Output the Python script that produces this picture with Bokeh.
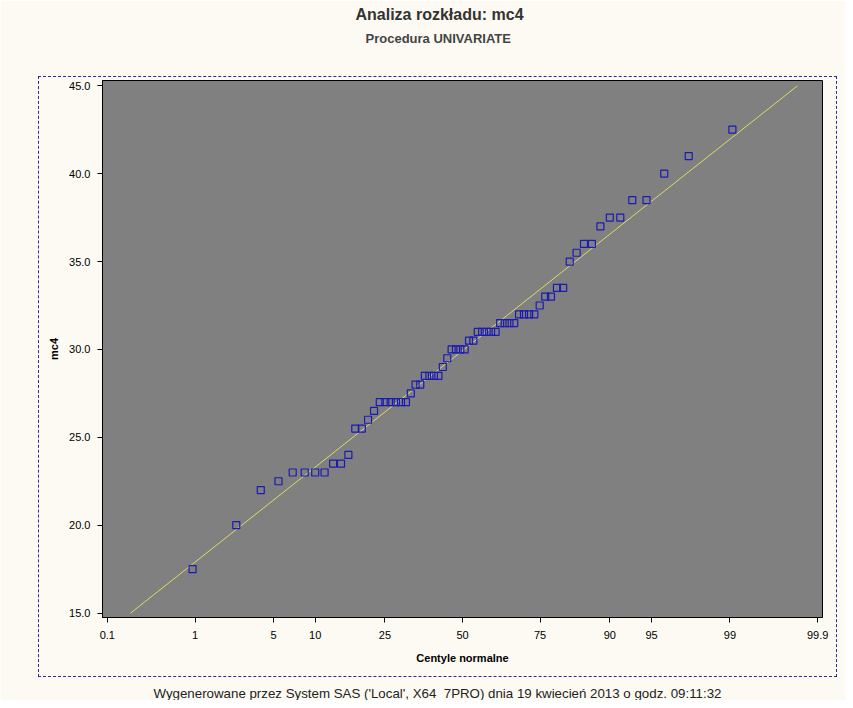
from statistics import NormalDist
from bokeh.plotting import figure
from bokeh.models import Title, Range1d, FixedTicker, ColumnDataSource, InlineStyleSheet
from bokeh.embed import file_html
from bokeh.resources import INLINE

# ---- data ----
mc4 = [17.5, 20.0, 22.0, 22.5,
       23.0, 23.0, 23.0, 23.0, 23.5, 23.5, 24.0,
       25.5, 25.5, 26.0, 26.5,
       27.0, 27.0, 27.0, 27.0, 27.0, 27.0, 27.5, 28.0, 28.0,
       28.5, 28.5, 28.5, 28.5, 29.0, 29.5,
       30.0, 30.0, 30.0, 30.0, 30.5, 30.5,
       31.0, 31.0, 31.0, 31.0, 31.0,
       31.5, 31.5, 31.5, 31.5,
       32.0, 32.0, 32.0, 32.0, 32.5, 33.0, 33.0, 33.5, 33.5,
       35.0, 35.5, 36.0, 36.0, 37.0, 37.5, 37.5, 38.5, 38.5,
       40.0, 41.0, 42.5]
percentile_ticks = [0.1, 1, 5, 10, 25, 50, 75, 90, 95, 99, 99.9]
percentile_labels = ["0.1", "1", "5", "10", "25", "50", "75", "90", "95", "99", "99.9"]
y_ticks = [15, 20, 25, 30, 35, 40, 45]
ref_mu = 29.93
ref_sigma = 5.17
ref_line_y = [15.0, 45.0]

BG = "#FCFAF2"
FONT = "Liberation Sans"

nd = NormalDist()
vals = sorted(mc4)
n = len(vals)
zq = [nd.inv_cdf((i - 0.375) / (n + 0.25)) for i in range(1, n + 1)]
src = ColumnDataSource(dict(z=zq, y=vals))

tick_z = [nd.inv_cdf(p / 100.0) for p in percentile_ticks]
line_z = [(v - ref_mu) / ref_sigma for v in ref_line_y]

p = figure(width=845, height=700, output_backend="svg", toolbar_location=None,
           x_range=Range1d(-3.132, 3.132), y_range=Range1d(14.75, 45.30),
           min_border_left=102, min_border_right=23, min_border_top=80, min_border_bottom=83)
p.background_fill_color = "#808080"
p.border_fill_color = BG
p.outline_line_color = "black"
p.outline_line_width = 1
p.xgrid.visible = False
p.ygrid.visible = False

p.line(line_z, ref_line_y, line_color="#DCDC64", line_width=1)
p.scatter("z", "y", source=src, marker="square", size=7, fill_alpha=0,
          line_color="#1A1AB4", line_width=1.2)

xa = p.xaxis[0]
xa.ticker = FixedTicker(ticks=tick_z)
xa.major_label_overrides = {t: l for t, l in zip(tick_z, percentile_labels)}
ya = p.yaxis[0]
ya.ticker = FixedTicker(ticks=y_ticks)
ya.major_label_overrides = {t: f"{t:.1f}" for t in y_ticks}
for ax in (xa, ya):
    ax.minor_tick_line_color = None
    ax.major_tick_out = 5
    ax.major_tick_in = 0
    ax.axis_line_color = "black"
    ax.major_tick_line_color = "black"
    ax.major_label_text_font = FONT
    ax.major_label_text_font_size = "11px"
    ax.major_label_text_color = "black"
    ax.axis_label_text_font = FONT
    ax.axis_label_text_font_size = "11px"
    ax.axis_label_text_font_style = "bold"
    ax.axis_label_text_color = "black"
xa.axis_label = "Centyle normalne"
xa.major_label_standoff = 8
xa.axis_label_standoff = 10
ya.axis_label = "mc4"
ya.major_label_standoff = 7
ya.axis_label_standoff = 6

# titles: the first added panel sits closest to the frame, p.title outermost
p.title.text = "Analiza rozkładu: mc4"
p.title.align = "left"
p.title.offset = 253
p.title.text_font = FONT
p.title.text_font_size = "16px"
p.title.text_font_style = "bold"
p.title.text_color = "#333333"
p.title.standoff = 6
p.add_layout(Title(text=" ", text_font_size="10px", standoff=18), "above")
p.add_layout(Title(text="Procedura UNIVARIATE", align="left", offset=263,
                   text_font=FONT, text_font_size="13px", text_font_style="bold",
                   text_color="#444444", standoff=7), "above")

# footer below the x axis, with a spacer panel between
p.add_layout(Title(text=" ", text_font_size="10px", standoff=4), "below")
p.add_layout(Title(text="Wygenerowane przez System SAS ('Local', X64_7PRO) dnia 19 kwiecień 2013 o godz. 09:11:32",
                   align="left", offset=51, text_font=FONT, text_font_size="13.3px",
                   text_font_style="normal", text_color="#222222", standoff=0), "below")

# dashed frame around the graph area
p.stylesheets = [InlineStyleSheet(css="""
:host { position: relative; }
:host::after { content: ""; position: absolute; left: 38px; top: 76px;
  width: 797px; height: 599px; border: 1px dashed #2A2AA0; pointer-events: none; }
""")]

html = file_html(p, INLINE)
html = html.replace("<body>", f'<body style="background:{BG}">', 1)
open("out.html", "w").write(html)
